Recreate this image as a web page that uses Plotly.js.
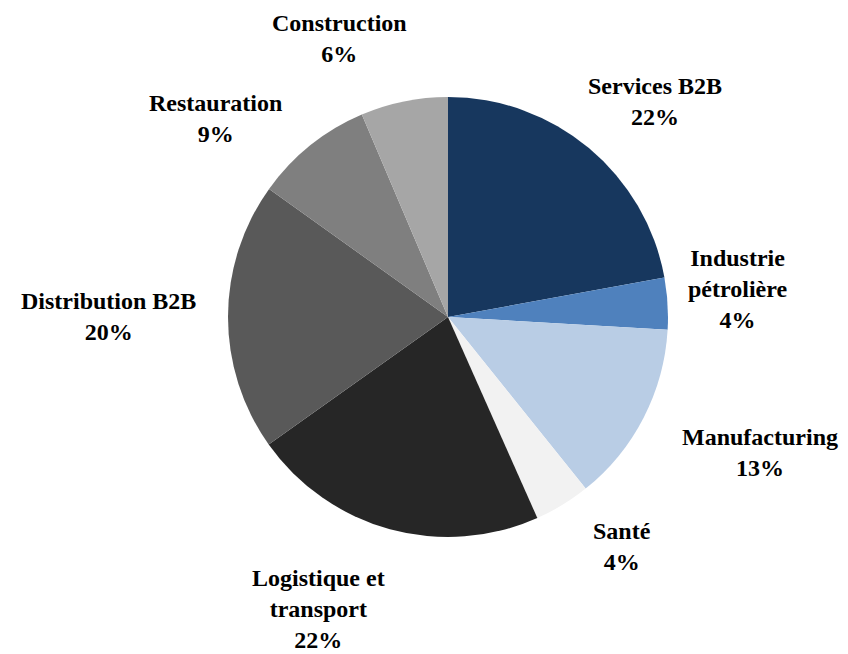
<!DOCTYPE html>
<html>
<head>
<meta charset="utf-8">
<script src="https://cdn.plot.ly/plotly-3.0.1.min.js"></script>
<style>html,body{margin:0;padding:0;background:#fff;}#chart{width:848px;height:654px;}</style>
</head>
<body>
<div id="chart"></div>
<script>
// Data
const categories = ["Services B2B", "Industrie pétrolière", "Manufacturing", "Santé", "Logistique et transport", "Distribution B2B", "Restauration", "Construction"];
const displayLabels = ["Services B2B", "Industrie<br>pétrolière", "Manufacturing", "Santé", "Logistique et<br>transport", "Distribution B2B", "Restauration", "Construction"];
const values = [22.1, 3.8, 13.3, 4.1, 21.8, 19.7, 8.7, 6.4];
const colors = ["#17375E", "#4F81BD", "#B9CDE5", "#F2F2F2", "#262626", "#595959", "#7F7F7F", "#A6A6A6"];
// Label centre positions (pixels in the 848x654 frame)
const labelPx = [[655, 101], [737, 289], [760, 452], [622, 546], [318, 609], [108, 316], [215, 118], [339, 39]];

const W = 848, H = 654;
const cx = 448, cy = 317, R = 220;
const total = values.reduce((a, b) => a + b, 0);

const annotations = categories.map((c, i) => ({
  text: "<b>" + displayLabels[i] + "<br>" + Math.round(values[i] / total * 100) + "%</b>",
  x: labelPx[i][0] / W,
  y: 1 - labelPx[i][1] / H,
  xref: "paper", yref: "paper",
  xanchor: "center", yanchor: "middle",
  showarrow: false,
  align: "center",
  font: {family: "Liberation Serif, Times New Roman, serif", size: 24, color: "#000000"}
}));

const trace = {
  type: "pie",
  labels: categories,
  values: values,
  sort: false,
  direction: "clockwise",
  rotation: 0,
  marker: {colors: colors, line: {width: 0}},
  textinfo: "none",
  hoverinfo: "label+percent",
  domain: {x: [(cx - R) / W, (cx + R) / W], y: [1 - (cy + R) / H, 1 - (cy - R) / H]},
  showlegend: false
};

Plotly.newPlot("chart", [trace], {
  width: W, height: H,
  margin: {l: 0, r: 0, t: 0, b: 0},
  paper_bgcolor: "#ffffff",
  annotations: annotations,
  showlegend: false
}, {displayModeBar: false, staticPlot: true});
</script>
</body>
</html>
